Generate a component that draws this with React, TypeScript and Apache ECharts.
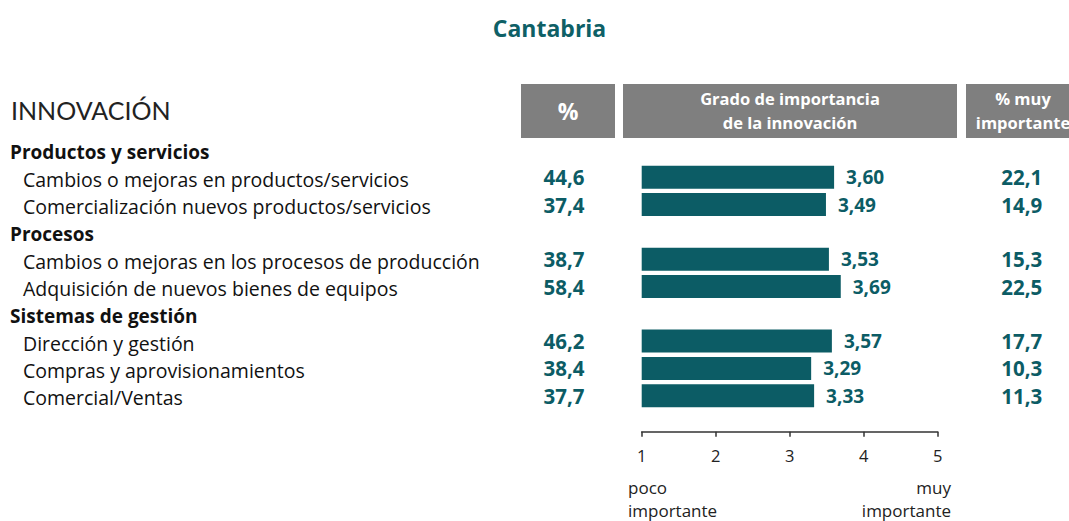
import React, { useEffect, useRef } from "react";
import * as echarts from "echarts";

const categories = [
  "Productos y servicios",
  "Cambios o mejoras en productos/servicios",
  "Comercialización nuevos productos/servicios",
  "Procesos",
  "Cambios o mejoras en los procesos de producción",
  "Adquisición de nuevos bienes de equipos",
  "Sistemas de gestión",
  "Dirección y gestión",
  "Compras y aprovisionamientos",
  "Comercial/Ventas",
];
const importance = [null, 3.6, 3.49, null, 3.53, 3.69, null, 3.57, 3.29, 3.33];
const pctInnovation = [null, 44.6, 37.4, null, 38.7, 58.4, null, 46.2, 38.4, 37.7];
const pctVeryImportant = [null, 22.1, 14.9, null, 15.3, 22.5, null, 17.7, 10.3, 11.3];
const xTicks = [1, 2, 3, 4, 5];

const FONT = "Open Sans";
const TEAL = "#0c5c65";
const GRAY = "#7f7f7f";

const fmt = (v: number | null, d: number) =>
  v == null ? "" : v.toFixed(d).replace(".", ",");

export default function App() {
  const ref = useRef<HTMLDivElement>(null);
  useEffect(() => {
    document.body.style.margin = "0";
    const chart = echarts.init(ref.current!, null, { renderer: "svg" });
    const gridLeft = 641.7;
    const gridRight = 937.7;
    const option: any = {
      animation: false,
      textStyle: { fontFamily: FONT },
      title: {
        text: "Cantabria",
        left: 544.5,
        top: 11,
        textAlign: "center",
        textStyle: { fontFamily: FONT, fontSize: 23, fontWeight: "bold", color: "#0e6066" },
      },
      grid: { left: gridLeft, width: gridRight - gridLeft, top: 136.35, height: 273, containLabel: false },
      xAxis: {
        type: "value",
        min: xTicks[0],
        max: xTicks[xTicks.length - 1],
        interval: 1,
        startValue: 1,
        offset: 22.3,
        axisLine: { show: true, lineStyle: { color: "#333", width: 1.5 } },
        axisTick: { show: true, length: 5, inside: false, lineStyle: { color: "#333", width: 1.5 } },
        axisLabel: { fontFamily: FONT, fontSize: 16.5, color: "#222", margin: 15 },
        splitLine: { show: false },
      },
      yAxis: [
        {
          type: "category",
          inverse: true,
          data: categories,
          position: "left",
          axisLine: { show: false },
          axisTick: { show: false },
          axisLabel: {
            align: "left",
            margin: gridLeft - 10,
            formatter: (v: string, i: number) =>
              importance[i] == null ? `{h|${v}}` : `{i|${v}}`,
            rich: {
              h: { fontFamily: FONT, fontSize: 19, fontWeight: "bold", color: "#111", padding: [4, 0, 0, 0] },
              i: { fontFamily: FONT, fontSize: 19.5, color: "#111", padding: [4, 0, 0, 13] },
            },
          },
        },
        {
          type: "category",
          inverse: true,
          data: categories,
          position: "left",
          offset: gridLeft - 564,
          axisLine: { show: false },
          axisTick: { show: false },
          axisLabel: {
            align: "center",
            margin: 0,
            padding: [4, 0, 0, 0],
            formatter: (_v: string, i: number) => fmt(pctInnovation[i], 1),
            fontFamily: FONT,
            fontSize: 20.5,
            fontWeight: "bold",
            color: TEAL,
          },
        },
        {
          type: "category",
          inverse: true,
          data: categories,
          position: "right",
          offset: 1021.7 - gridRight,
          axisLine: { show: false },
          axisTick: { show: false },
          axisLabel: {
            align: "center",
            margin: 0,
            padding: [4, 0, 0, 0],
            formatter: (_v: string, i: number) => fmt(pctVeryImportant[i], 1),
            fontFamily: FONT,
            fontSize: 20.5,
            fontWeight: "bold",
            color: TEAL,
          },
        },
      ],
      series: [
        {
          type: "bar",
          xAxisIndex: 0,
          yAxisIndex: 0,
          data: importance.map((v) => (v == null ? "-" : v)),
          barWidth: 23,
          clip: true,
          itemStyle: { color: TEAL },
          label: {
            show: true,
            position: "right",
            distance: 12,
            formatter: (p: any) => fmt(p.value, 2),
            fontFamily: FONT,
            fontSize: 19,
            fontWeight: "bold",
            color: TEAL,
          },
        },
      ],
      graphic: [
        {
          type: "text",
          left: 11,
          top: 97,
          style: { text: "INNOVACIÓN", fontFamily: "Lato", fontSize: 25, fill: "#222" },
        },
        { type: "rect", shape: { x: 521, y: 84, width: 94, height: 54 }, style: { fill: GRAY } },
        { type: "rect", shape: { x: 623, y: 84, width: 334, height: 54 }, style: { fill: GRAY } },
        { type: "rect", shape: { x: 966, y: 84, width: 114, height: 54 }, style: { fill: GRAY } },
        {
          type: "text",
          x: 568,
          y: 111,
          style: { text: "%", fontFamily: FONT, fontSize: 23, fontWeight: "bold", fill: "#fff", align: "center", verticalAlign: "middle" },
        },
        {
          type: "text",
          x: 790,
          y: 98.5,
          style: { text: "Grado de importancia", fontFamily: FONT, fontSize: 16.5, fontWeight: "bold", fill: "#fff", align: "center", verticalAlign: "middle" },
        },
        {
          type: "text",
          x: 790,
          y: 122,
          style: { text: "de la innovación", fontFamily: FONT, fontSize: 16.5, fontWeight: "bold", fill: "#fff", align: "center", verticalAlign: "middle" },
        },
        {
          type: "text",
          x: 1023,
          y: 98.5,
          style: { text: "% muy", fontFamily: FONT, fontSize: 16.5, fontWeight: "bold", fill: "#fff", align: "center", verticalAlign: "middle" },
        },
        {
          type: "text",
          x: 1023,
          y: 122,
          style: { text: "importante", fontFamily: FONT, fontSize: 16.5, fontWeight: "bold", fill: "#fff", align: "center", verticalAlign: "middle" },
        },
        {
          type: "text",
          x: 628,
          y: 487,
          style: { text: "poco", fontFamily: FONT, fontSize: 17, fill: "#222", align: "left", verticalAlign: "middle" },
        },
        {
          type: "text",
          x: 628,
          y: 510,
          style: { text: "importante", fontFamily: FONT, fontSize: 17, fill: "#222", align: "left", verticalAlign: "middle" },
        },
        {
          type: "text",
          x: 951,
          y: 487,
          style: { text: "muy", fontFamily: FONT, fontSize: 17, fill: "#222", align: "right", verticalAlign: "middle" },
        },
        {
          type: "text",
          x: 951,
          y: 510,
          style: { text: "importante", fontFamily: FONT, fontSize: 17, fill: "#222", align: "right", verticalAlign: "middle" },
        },
      ],
    };
    chart.setOption(option);
    return () => chart.dispose();
  }, []);
  return <div ref={ref} style={{ width: 1069, height: 521 }} />;
}
